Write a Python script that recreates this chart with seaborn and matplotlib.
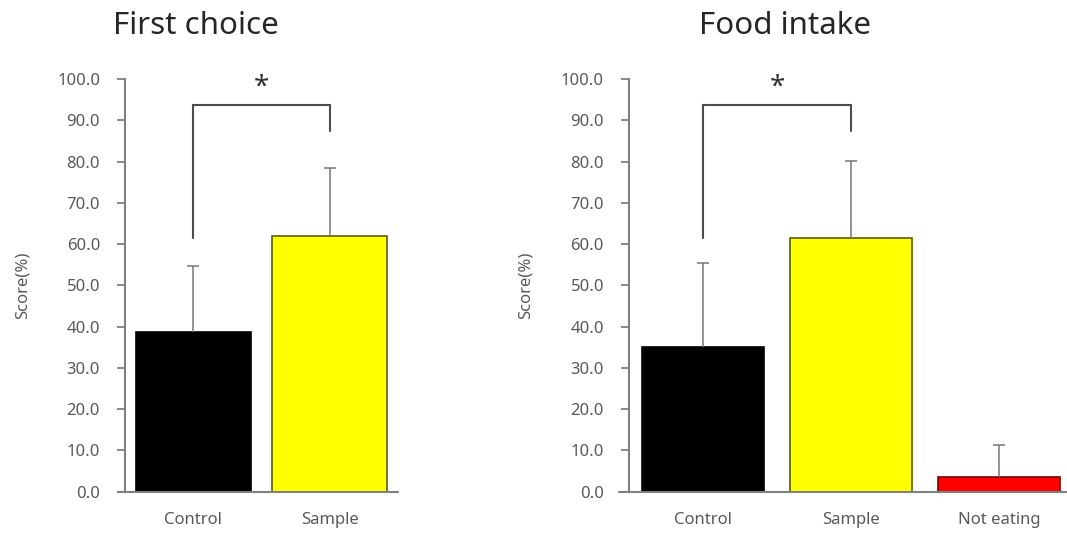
import matplotlib
matplotlib.use("Agg")
import matplotlib.pyplot as plt
import seaborn as sns
import pandas as pd

# ---- data ----
first_choice_groups = ["Control", "Sample"]
first_choice_mean = [38.6, 62.0]
first_choice_err = [16.1, 16.4]

food_intake_groups = ["Control", "Sample", "Not eating"]
food_intake_mean = [35.1, 61.4, 3.6]
food_intake_err = [20.4, 18.8, 7.7]

bar_colors = {"Control": "#000000", "Sample": "#ffff00", "Not eating": "#ff0000"}
edge_colors = {"Control": "#000000", "Sample": "#5c5c00", "Not eating": "#7a0000"}

y_ticks = [0, 10, 20, 30, 40, 50, 60, 70, 80, 90, 100]

# significance bracket: (left leg bottom, right leg bottom, bracket top)
bracket_levels = (61.4, 87.3, 93.6)

sns.set_theme(style="white")
plt.rcParams["font.family"] = ["Noto Sans", "DejaVu Sans"]

AXIS_GREY = "#808080"
TEXT_GREY = "#595959"

fig = plt.figure(figsize=(10.67, 5.36), dpi=100)
ax1 = fig.add_axes([0.1172, 0.083, 0.2558, 0.7696])
ax2 = fig.add_axes([0.5895, 0.083, 0.4161, 0.7696])


def draw_panel(ax, groups, means, errs, width, left_ext):
    df = pd.DataFrame({"group": groups, "score": means})
    sns.barplot(data=df, x="group", y="score", hue="group",
                palette=bar_colors, legend=False, width=width,
                saturation=1, errorbar=None, ax=ax, zorder=2)
    for patch, g in zip(ax.patches, groups):
        patch.set_edgecolor(edge_colors[g])
        patch.set_linewidth(1.2)
    xs = list(range(len(groups)))
    _, caps, _ = ax.errorbar(xs, means, yerr=[[0] * len(errs), errs],
                             fmt="none", ecolor="#767676", elinewidth=1.1,
                             capsize=4, capthick=1.1, zorder=3)
    caps[0].set_visible(False)

    ax.set_xlim(-0.5, len(groups) - 0.5)
    ax.set_ylim(0, 100)
    ax.set_yticks(y_ticks)
    ax.set_yticklabels([f"{v:.1f}" for v in y_ticks])
    ax.set_xlabel("")
    ax.set_ylabel("Score(%)", fontsize=12, color=TEXT_GREY)

    for side in ("top", "right", "bottom"):
        ax.spines[side].set_visible(False)
    ax.spines["left"].set_color(AXIS_GREY)
    ax.spines["left"].set_linewidth(1.5)
    ax.plot([left_ext, 1.0], [0, 0], transform=ax.get_yaxis_transform(),
            color=AXIS_GREY, lw=1.5, clip_on=False, zorder=4)

    ax.tick_params(axis="y", direction="out", length=6, width=1.3,
                   color=AXIS_GREY, labelcolor=TEXT_GREY, labelsize=12,
                   pad=12, left=True)
    ax.tick_params(axis="x", length=0, labelcolor=TEXT_GREY, labelsize=12,
                   pad=15)

    # significance bracket between Control and Sample
    lo_left, lo_right, top = bracket_levels
    ax.plot([0, 0, 1, 1], [lo_left, top, top, lo_right], color="#4d4d4d",
            lw=1.5, zorder=3, solid_joinstyle="miter")
    ax.text(0.5, top + 0.8, "*", ha="center", va="bottom", fontsize=20,
            color="#333333")


draw_panel(ax1, first_choice_groups, first_choice_mean, first_choice_err,
           0.84, -0.027)
draw_panel(ax2, food_intake_groups, food_intake_mean, food_intake_err,
           0.826, -0.023)

ax1.yaxis.set_label_coords(-0.345, 0.5)
ax2.yaxis.set_label_coords(-0.215, 0.5)

fig.text(0.1837, 0.952, "First choice", ha="center", va="center",
         fontsize=22.5, color="#262626")
fig.text(0.7357, 0.952, "Food intake", ha="center", va="center",
         fontsize=22.5, color="#262626")

fig.savefig("out.png", dpi=100, facecolor="white")
